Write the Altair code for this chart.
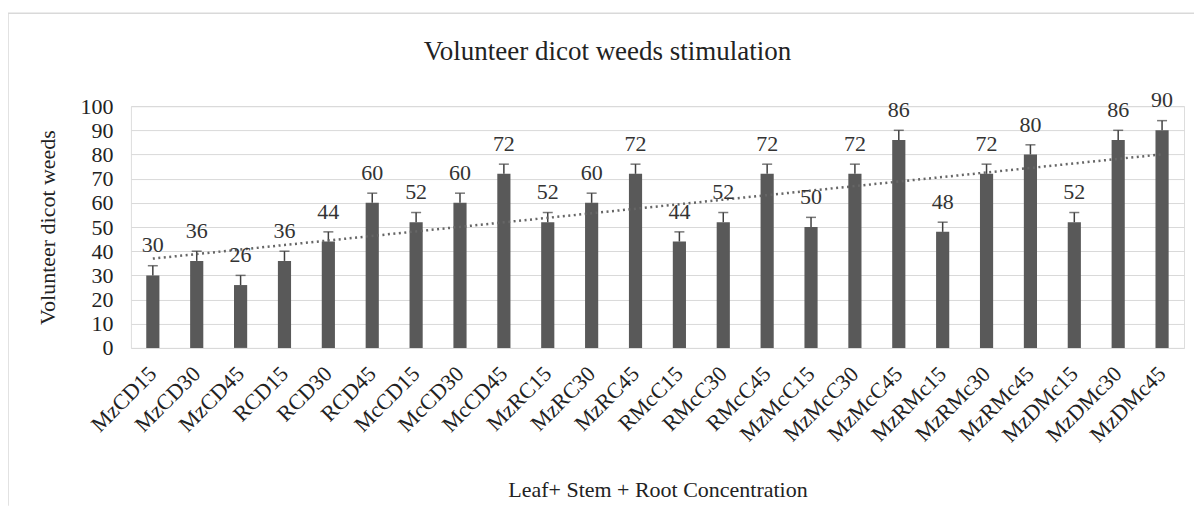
import altair as alt
import numpy as np
import pandas as pd

categories = ["MzCD15", "MzCD30", "MzCD45", "RCD15", "RCD30", "RCD45",
              "McCD15", "McCD30", "McCD45", "MzRC15", "MzRC30", "MzRC45",
              "RMcC15", "RMcC30", "RMcC45", "MzMcC15", "MzMcC30", "MzMcC45",
              "MzRMc15", "MzRMc30", "MzRMc45", "MzDMc15", "MzDMc30", "MzDMc45"]
values = [30, 36, 26, 36, 44, 60, 52, 60, 72, 52, 60, 72,
          44, 52, 72, 50, 72, 86, 48, 72, 80, 52, 86, 90]
errors = [4, 4, 4, 4, 4, 4, 4, 4, 4, 4, 4, 4,
          4, 4, 4, 4, 4, 4, 4, 4, 4, 4, 4, 4]
y_ticks = [0, 10, 20, 30, 40, 50, 60, 70, 80, 90, 100]
chart_title = "Volunteer dicot weeds stimulation"

idx = np.arange(1, len(values) + 1)
slope, intercept = np.polyfit(idx, values, 1)
df = pd.DataFrame({
    "cat": categories,
    "value": values,
    "top": [v + e for v, e in zip(values, errors)],
    "trend": slope * idx + intercept,
})

FONT = "Liberation Serif"
BAR = "#595959"
TXT = "#222222"

x_axis = alt.Axis(title="Leaf+ Stem + Root Concentration", labelAngle=-45,
                  labelAlign="right", labelBaseline="middle",
                  labelPadding=22, ticks=False, domain=False,
                  labelFontSize=22, labelFont=FONT, labelColor=TXT,
                  labelOverlap=False,
                  titleFont=FONT, titleFontSize=22, titleFontWeight="normal",
                  titleColor=TXT, titlePadding=34)
x_scale = alt.Scale(paddingInner=0.7, paddingOuter=0.35)
y_axis = alt.Axis(title="Volunteer dicot weeds", values=y_ticks, tickCount=11, ticks=False,
                  domain=False, labelFontSize=22, labelFont=FONT, labelOverlap=False,
                  labelColor=TXT, labelPadding=18, gridColor="#d9d9d9",
                  titleFont=FONT, titleFontSize=22, titleFontWeight="normal",
                  titleColor=TXT, titlePadding=20)
y_scale = alt.Scale(domain=[0, 100], nice=False)


def X():
    return alt.X("cat:N", sort=categories, scale=x_scale, axis=x_axis)


def Y(field):
    return alt.Y(field, scale=y_scale, axis=y_axis)


base = alt.Chart(df)

bars = base.mark_bar(color=BAR).encode(x=X(), y=Y("value:Q"))
err_rule = base.mark_rule(color="#404040", strokeWidth=1.5).encode(
    x=X(), y=Y("value:Q"), y2="top:Q")
err_cap = base.mark_tick(color="#404040", thickness=1.5, size=10, orient="horizontal").encode(
    x=X(), y=Y("top:Q"))
trend = base.mark_line(color="#666666", strokeWidth=2.5, strokeDash=[2, 3.5]).encode(
    x=X(), y=Y("trend:Q"))
labels = base.mark_text(font=FONT, fontSize=22, color="#333333", baseline="middle",
                        dy=-30).encode(
    x=X(), y=Y("value:Q"), text="value:Q")

title_df = pd.DataFrame({"t": [chart_title]})
title = alt.Chart(title_df).mark_text(font=FONT, fontSize=27, color=TXT,
                                      baseline="alphabetic", align="center").encode(
    x=alt.value(477), y=alt.value(-46), text="t:N")

border_top = alt.Chart(title_df).mark_rule(color="#d9d9d9", strokeWidth=1.5).encode(
    x=alt.value(-123), x2=alt.value(1070), y=alt.value(-93))
border_left = alt.Chart(title_df).mark_rule(color="#d9d9d9", strokeWidth=1.5).encode(
    x=alt.value(-123), y=alt.value(-93), y2=alt.value(400))

chart = alt.layer(bars, err_rule, err_cap, trend, labels, title, border_top, border_left).properties(
    width=1054, height=242,
    padding={"left": 123, "top": 98, "right": 10, "bottom": 160},
    autosize=alt.AutoSizeParams(type="none"),
).configure_view(strokeWidth=0).configure(background="white")

chart.save("out.html", embed_options={"renderer": "svg", "actions": False})
